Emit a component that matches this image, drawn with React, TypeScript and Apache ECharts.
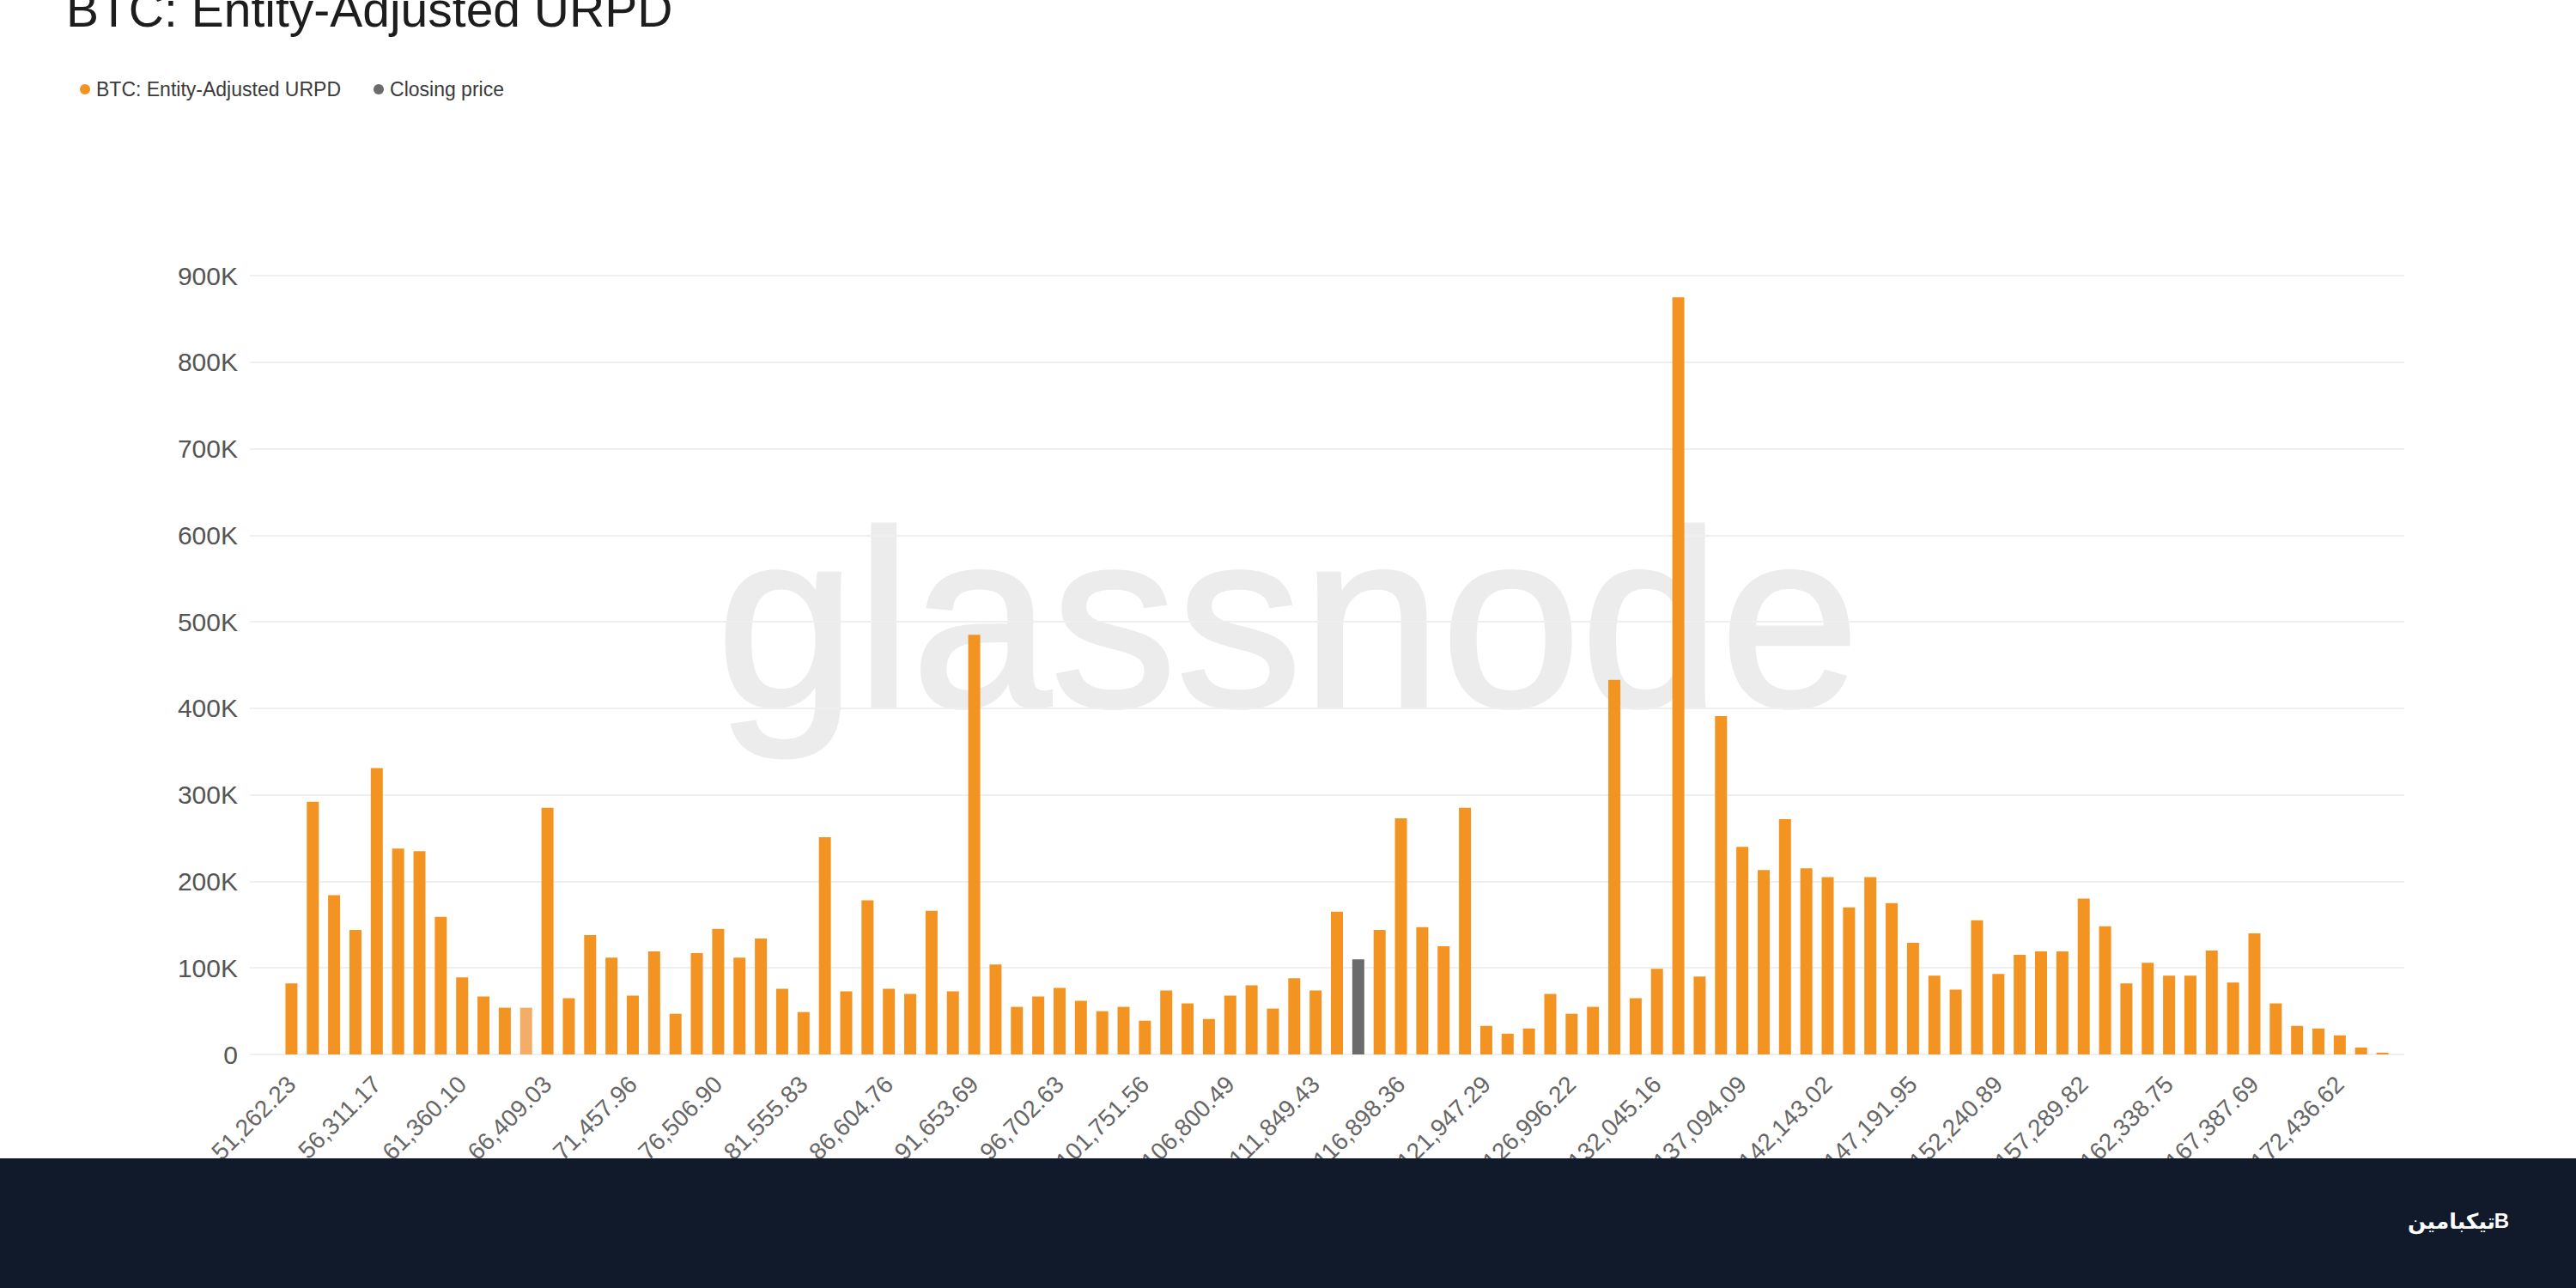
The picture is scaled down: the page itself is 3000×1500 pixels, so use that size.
import React, { useEffect, useRef } from "react";
import * as echarts from "echarts";

// Price-bin tick labels (every 4th bin)
const tickLabels = [
  "51,262.23", "56,311.17", "61,360.10", "66,409.03", "71,457.96",
  "76,506.90", "81,555.83", "86,604.76", "91,653.69", "96,702.63",
  "101,751.56", "106,800.49", "111,849.43", "116,898.36", "121,947.29",
  "126,996.22", "132,045.16", "137,094.09", "142,143.02", "147,191.95",
  "152,240.89", "157,289.82", "162,338.75", "167,387.69", "172,436.62",
];

// Entity-adjusted URPD supply per bin (BTC)
const urpdValues = [
  82000, 292000, 184000, 144000, 331000, 238000, 235000, 159000, 89000, 67000,
  54000, 54000, 285000, 65000, 138000, 112000, 68000, 119000, 47000, 117000,
  145000, 112000, 134000, 76000, 49000, 251000, 73000, 178000, 76000, 70000,
  166000, 73000, 485000, 104000, 55000, 67000, 77000, 62000, 50000, 55000,
  39000, 74000, 59000, 41000, 68000, 80000, 53000, 88000, 74000, 165000,
  110000, 144000, 273000, 147000, 125000, 285000, 33000, 24000, 30000, 70000,
  47000, 55000, 433000, 65000, 99000, 875000, 90000, 391000, 240000, 213000,
  272000, 215000, 205000, 170000, 205000, 175000, 129000, 91000, 75000, 155000,
  93000, 115000, 119000, 119000, 180000, 148000, 82000, 106000, 91000, 91000,
  120000, 83000, 140000, 59000, 33000, 30000, 22000, 8000, 2000,
];

const categories = urpdValues.map((_, i) => String(i));
const closingIndex = 50;
const highlightIndex = 11;

const yTicks = { min: 0, max: 900000, interval: 100000 };

const ORANGE = "#f39422";
const LIGHT_ORANGE = "#f4ad66";
const GREY = "#6b6b6b";
const FONT = "Liberation Sans, Arial, sans-serif";

export default function App() {
  const ref = useRef<HTMLDivElement>(null);

  useEffect(() => {
    if (!ref.current) return;
    const chart = echarts.init(ref.current, undefined, { renderer: "svg" });

    const urpdData = urpdValues.map((v, i) => {
      if (i === closingIndex) return "-";
      if (i === highlightIndex) return { value: v, itemStyle: { color: LIGHT_ORANGE } };
      return v;
    });
    const closeData = urpdValues.map((v, i) => (i === closingIndex ? v : "-"));

    chart.setOption({
      animation: false,
      backgroundColor: "#ffffff",
      textStyle: { fontFamily: FONT },
      legend: {
        left: 88,
        top: 87,
        icon: "circle",
        itemWidth: 16,
        itemHeight: 12,
        itemGap: 38,
        textStyle: { fontSize: 23, color: "#3a3a3a", fontFamily: FONT, lineHeight: 24 },
        data: ["BTC: Entity-Adjusted URPD", "Closing price"],
      },
      grid: [
        { left: 291, right: 200, top: 321, bottom: 272 },
        { left: 327, width: 2460, top: 321, bottom: 272 },
      ],
      xAxis: [
        { gridIndex: 0, type: "value", show: false, min: 0, max: 1 },
        {
          gridIndex: 1,
          type: "category",
          data: categories,
          axisLine: { show: false },
          axisTick: { show: false },
          axisLabel: {
            interval: 3,
            rotate: 45,
            margin: 30,
            fontSize: 28,
            color: "#666666",
            fontFamily: FONT,
            formatter: (_v: string, i: number) => tickLabels[i / 4] ?? "",
          },
        },
      ],
      yAxis: [
        {
          gridIndex: 0,
          type: "value",
          min: yTicks.min,
          max: yTicks.max,
          interval: yTicks.interval,
          axisLine: { show: false },
          axisTick: { show: false },
          axisLabel: {
            margin: 14,
            fontSize: 30,
            color: "#555555",
            fontFamily: FONT,
            formatter: (v: number) => (v === 0 ? "0" : `${v / 1000}K`),
          },
          splitLine: { lineStyle: { color: "#efefef", width: 2 } },
        },
        {
          gridIndex: 1,
          type: "value",
          min: yTicks.min,
          max: yTicks.max,
          interval: yTicks.interval,
          show: false,
          splitLine: { show: false },
        },
      ],
      series: [
        {
          name: "BTC: Entity-Adjusted URPD",
          type: "bar",
          xAxisIndex: 1,
          yAxisIndex: 1,
          barWidth: 14,
          barGap: "-100%",
          itemStyle: { color: ORANGE },
          data: urpdData,
        },
        {
          name: "Closing price",
          type: "bar",
          xAxisIndex: 1,
          yAxisIndex: 1,
          barWidth: 14,
          barGap: "-100%",
          itemStyle: { color: GREY },
          data: closeData,
        },
      ],
      graphic: [
        {
          type: "text",
          x: 1500,
          y: 721,
          z: 0,
          silent: true,
          style: {
            text: "glassnode",
            fontSize: 292,
            fontFamily: FONT,
            fill: "#ececec",
            stroke: "#ececec",
            lineWidth: 4,
            align: "center",
            verticalAlign: "middle",
          },
        },
        {
          type: "text",
          x: 77,
          y: 11,
          z: 10,
          style: {
            text: "BTC: Entity-Adjusted URPD",
            fontSize: 57,
            fontFamily: FONT,
            fill: "#1d1d1d",
            verticalAlign: "middle",
          },
        },
        {
          type: "rect",
          z: 100,
          shape: { x: 0, y: 1349, width: 3000, height: 151 },
          style: { fill: "#111a2b" },
        },
        {
          type: "text",
          x: 2906,
          y: 1422,
          z: 101,
          style: {
            text: "تیکبامین",
            fontSize: 25,
            fontWeight: "bold",
            fontFamily: "DejaVu Sans, sans-serif",
            fill: "#ffffff",
            align: "right",
            verticalAlign: "middle",
          },
        },
        {
          type: "text",
          x: 2922,
          y: 1421,
          z: 101,
          style: {
            text: "B",
            fontSize: 24,
            fontWeight: "bold",
            fontFamily: FONT,
            fill: "#ffffff",
            align: "right",
            verticalAlign: "middle",
          },
        },
      ],
    });

    return () => chart.dispose();
  }, []);

  return (
    <div
      ref={ref}
      style={{ position: "absolute", left: 0, top: 0, width: 3000, height: 1500 }}
    />
  );
}
